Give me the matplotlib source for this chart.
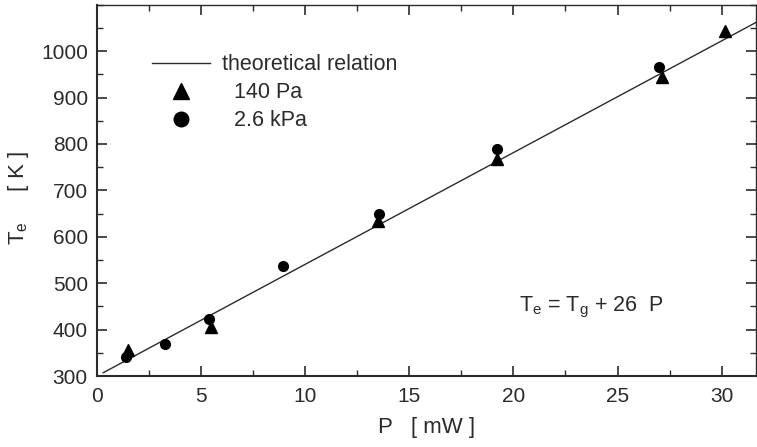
import matplotlib
matplotlib.use("Agg")
import matplotlib.pyplot as plt
from matplotlib.ticker import MultipleLocator

plt.rcParams['font.family'] = ['Liberation Sans', 'DejaVu Sans']
plt.rcParams['mathtext.fontset'] = 'custom'
plt.rcParams['mathtext.rm'] = 'Liberation Sans'
plt.rcParams['mathtext.it'] = 'Liberation Sans'

INK = '#2b2b2b'

# Measured electron temperature vs. absorbed power
p_140pa = [1.5, 5.47, 13.5, 19.2, 27.15, 30.15]
t_140pa = [357, 406, 635, 767, 945, 1043]

p_26kpa = [1.39, 3.25, 5.37, 8.94, 13.53, 19.2, 27.0]
t_26kpa = [341, 368, 422, 537, 649, 789, 966]

# Theoretical relation (straight line)
p_theory = [0.3, 31.7]
t_theory = [307, 1063]

fig = plt.figure(figsize=(7.57, 4.47), dpi=100)
ax = fig.add_axes([0.128, 0.1588, 0.8707, 0.8307])

ax.plot(p_theory, t_theory, color=INK, lw=1.0, label='theoretical relation')
ax.plot(p_140pa, t_140pa, ls='none', marker='^', ms=8, color='black', label='  140 Pa')
ax.plot(p_26kpa, t_26kpa, ls='none', marker='o', ms=7, color='black', label='  2.6 kPa')

ax.set_xlim(0, 31.65)
ax.set_ylim(300, 1100)
ax.xaxis.set_major_locator(MultipleLocator(5))
ax.xaxis.set_minor_locator(MultipleLocator(2.5))
ax.yaxis.set_minor_locator(MultipleLocator(50))
ax.set_yticks([300, 400, 500, 600, 700, 800, 900, 1000])

ax.tick_params(which='both', direction='in', top=True, right=True,
               colors=INK, labelsize=15, labelcolor=INK)
ax.tick_params(which='major', length=7, width=1.2)
ax.tick_params(which='minor', length=4, width=1.0)
ax.tick_params(axis='x', which='major', pad=8)
ax.tick_params(axis='y', which='major', pad=6.5)

for side, sp in ax.spines.items():
    sp.set_color(INK)
    sp.set_linewidth(1.5 if side in ('left', 'bottom') else 1.0)

ax.set_xlabel('P   [ mW ]', fontsize=16, color=INK, labelpad=8)
ax.set_ylabel(r'T$_\mathrm{e}$     [ K ]', fontsize=16, color=INK)
ax.yaxis.set_label_coords(-0.1, 0.48)

ax.text(23.74, 440, r'T$_\mathrm{e}$ = T$_\mathrm{g}$ + 26  P', fontsize=15.5,
        color=INK, ha='center', va='baseline')

leg = ax.legend(loc='upper left', bbox_to_anchor=(0.083, 0.866), frameon=False,
                fontsize=15.5, handlelength=2.7, handletextpad=0.56,
                labelspacing=0.32, borderpad=0, borderaxespad=0, markerscale=1.5)
for txt in leg.get_texts():
    txt.set_color(INK)

fig.savefig('out.png', dpi=100)
